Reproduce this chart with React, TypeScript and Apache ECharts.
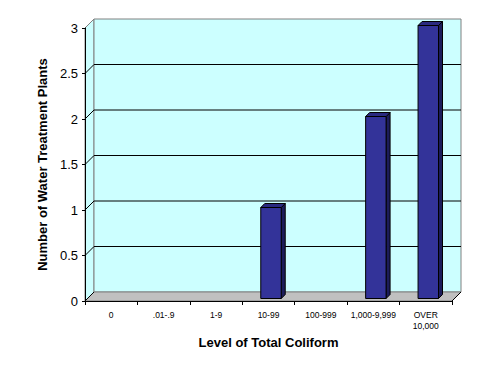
import React, { useEffect, useRef } from "react";
import * as echarts from "echarts";

const categories = ["0", ".01-.9", "1-9", "10-99", "100-999", "1,000-9,999", "OVER\n10,000"];
const plantCounts = [0, 0, 0, 1, 0, 2, 3];
const yTicks = [0, 0.5, 1, 1.5, 2, 2.5, 3];

const FONT = 'Arial, "Liberation Sans", sans-serif';
const DEPTH = 9;

export default function App() {
  const ref = useRef<HTMLDivElement>(null);
  useEffect(() => {
    document.body.style.margin = "0";
    const chart = echarts.init(ref.current!, null, { renderer: "svg" });
    const option: any = {
      animation: false,
      backgroundColor: "#ffffff",
      grid: { left: 85, right: 39, top: 28, bottom: 73, containLabel: false },
      xAxis: {
        type: "category",
        data: categories,
        boundaryGap: true,
        axisLine: { lineStyle: { color: "#000", width: 1 } },
        axisTick: { show: true, length: 4, alignWithLabel: false, lineStyle: { color: "#000" } },
        axisLabel: { interval: 0, fontSize: 8.5, color: "#000", fontFamily: FONT, margin: 8, lineHeight: 11 },
        splitLine: { show: false },
        name: "Level of Total Coliform",
        nameLocation: "middle",
        nameGap: 34,
        nameTextStyle: { fontSize: 13, fontWeight: "bold", color: "#000", fontFamily: FONT },
      },
      yAxis: {
        type: "value",
        min: 0,
        max: 3,
        interval: 0.5,
        axisLine: { show: true, lineStyle: { color: "#000", width: 1 } },
        axisTick: { show: true, length: 3, lineStyle: { color: "#000" } },
        axisLabel: { fontSize: 13, color: "#000", fontFamily: FONT, margin: 7 },
        splitLine: { show: false },
        name: "Number of Water Treatment Plants",
        nameLocation: "middle",
        nameRotate: 90,
        nameGap: 35,
        nameTextStyle: { fontSize: 13, fontWeight: "bold", color: "#000", fontFamily: FONT },
      },
      series: [
        {
          type: "custom",
          name: "walls",
          z: -1,
          silent: true,
          data: [[0, 0]],
          renderItem: (params: any, api: any) => {
            const cs = params.coordSys;
            const x0 = cs.x, y0 = cs.y, w = cs.width, h = cs.height;
            const D = DEPTH;
            const children: any[] = [];
            children.push({
              type: "polygon",
              shape: { points: [[x0, y0 + h], [x0, y0], [x0 + D, y0 - D], [x0 + D, y0 + h - D]] },
              style: { fill: "#ccffff", stroke: "#808080", lineWidth: 1 },
            });
            children.push({
              type: "rect",
              shape: { x: x0 + D, y: y0 - D, width: w, height: h },
              style: { fill: "#ccffff", stroke: "#808080", lineWidth: 1 },
            });
            children.push({
              type: "polygon",
              shape: { points: [[x0, y0 + h], [x0 + w, y0 + h], [x0 + w + D, y0 + h - D], [x0 + D, y0 + h - D]] },
              style: { fill: "#c0c0c0", stroke: "#808080", lineWidth: 1 },
            });
            yTicks.forEach((v) => {
              const y = api.coord([0, v])[1];
              if (v > 0 && v < 3) {
                children.push({
                  type: "line",
                  shape: { x1: x0 + D, y1: y - D, x2: x0 + w + D, y2: y - D },
                  style: { stroke: "#000", lineWidth: 1 },
                });
              }
              children.push({
                type: "line",
                shape: { x1: x0, y1: y, x2: x0 + D, y2: y - D },
                style: { stroke: v === 3 ? "#808080" : "#000", lineWidth: 1 },
              });
            });
            children.push({
              type: "line",
              shape: { x1: x0 + w, y1: y0 + h, x2: x0 + w + D, y2: y0 + h - D },
              style: { stroke: "#000", lineWidth: 1 },
            });
            return { type: "group", children };
          },
        },
        {
          type: "custom",
          name: "plants",
          z: 3,
          data: plantCounts.map((v, i) => [i, v]),
          renderItem: (params: any, api: any) => {
            const ci = api.value(0);
            const v = api.value(1);
            if (!v) return null;
            const [cx, yTop] = api.coord([ci, v]);
            const yBot = api.coord([ci, 0])[1];
            const bw = api.size([1, 0])[0] * 0.39;
            const off = 2.5;
            const dep = 4;
            const x1 = cx - bw / 2 + off;
            const x2 = x1 + bw;
            const t = yTop - off;
            const b = yBot - off;
            return {
              type: "group",
              children: [
                {
                  type: "polygon",
                  shape: { points: [[x2, t], [x2 + dep, t - dep], [x2 + dep, b - dep], [x2, b]] },
                  style: { fill: "#1c1c5a", stroke: "#000", lineWidth: 1 },
                },
                {
                  type: "polygon",
                  shape: { points: [[x1, t], [x1 + dep, t - dep], [x2 + dep, t - dep], [x2, t]] },
                  style: { fill: "#2a2a80", stroke: "#000", lineWidth: 1 },
                },
                {
                  type: "rect",
                  shape: { x: x1, y: t, width: bw, height: b - t },
                  style: { fill: "#333399", stroke: "#000", lineWidth: 1 },
                },
              ],
            };
          },
        },
      ],
    };
    chart.setOption(option);
    return () => chart.dispose();
  }, []);
  return <div ref={ref} style={{ width: 491, height: 374 }} />;
}
